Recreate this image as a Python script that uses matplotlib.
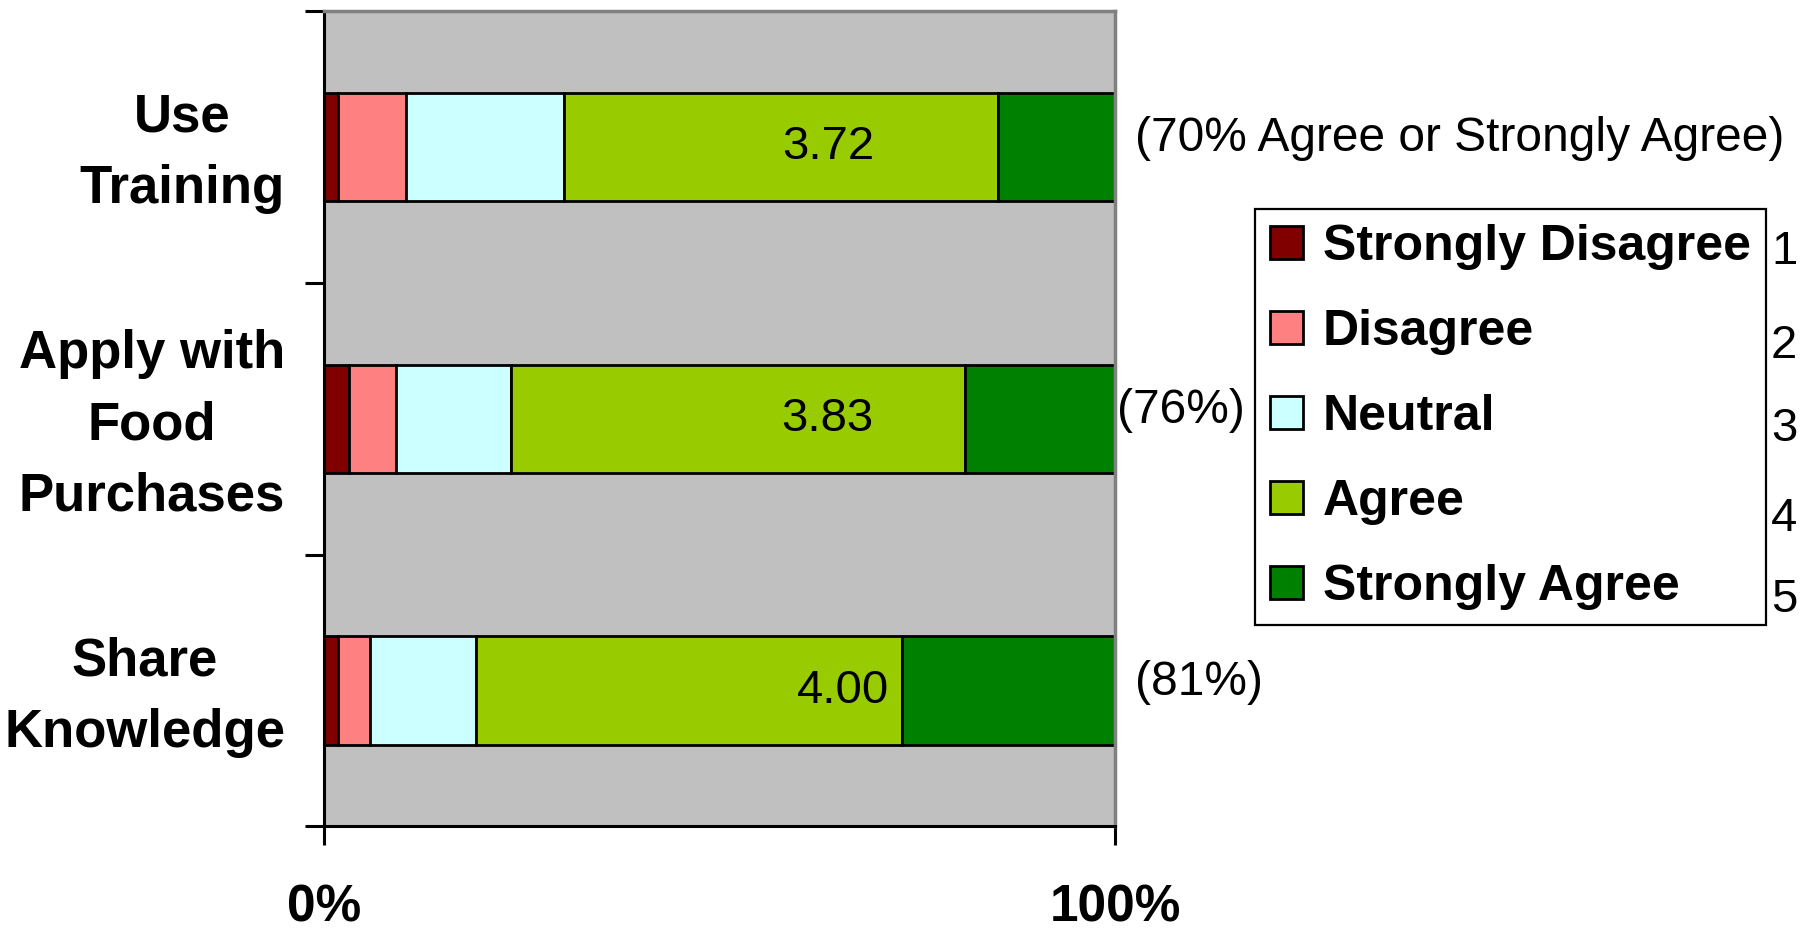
import numpy as np
from matplotlib import pyplot as plt
from matplotlib.transforms import ScaledTranslation

plt.rcParams['font.family'] = ['Liberation Sans', 'DejaVu Sans']

# survey items, top to bottom
items = ['Use\nTraining', 'Apply with\nFood\nPurchases', 'Share\nKnowledge']
levels = ['Strongly Disagree', 'Disagree', 'Neutral', 'Agree', 'Strongly Agree']
scores = [1, 2, 3, 4, 5]
colors = ['#800000', '#FF8080', '#CCFFFF', '#99CC00', '#008000']

# percent of answers per level, one list per item
use_training = [1.8, 8.6, 20.0, 54.8, 14.8]
apply_food = [3.2, 5.9, 14.6, 57.4, 18.9]
share_knowledge = [1.8, 4.0, 13.4, 53.9, 26.9]

agree_notes = ['({:.0f}% Agree or Strongly Agree)', '({:.0f}%)', '({:.0f}%)']
x_ticks = [0, 100]
x_tick_labels = ['0%', '100%']


def draw():
    data = np.array([use_training, apply_food, share_knowledge])
    y = np.arange(len(items))[::-1]

    fig = plt.figure(figsize=(18.1, 9.36), dpi=100)
    ax = fig.add_axes([0.179, 0.117, 0.437, 0.871])
    ax.set_facecolor('#C0C0C0')

    left = np.zeros(len(items))
    for i, name in enumerate(levels):
        ax.barh(y, data[:, i], left=left, height=0.4, color=colors[i],
                edgecolor='black', linewidth=2.0, label=name)
        left += data[:, i]

    # mean score inside the agree block, share of agree on the right
    means = data @ np.array(scores) / data.sum(axis=1)
    agree = data[:, 3] + data[:, 4]
    mean_x = [63.7, 63.7, 65.6]
    note_x = [1.025, 1.002, 1.025]
    for k in range(len(items)):
        ax.text(mean_x[k], y[k], '%.2f' % means[k], ha='center', va='center',
                fontsize=34)
        ax.text(note_x[k], y[k] + 0.03, agree_notes[k].format(agree[k]),
                transform=ax.get_yaxis_transform(), ha='left', va='center',
                fontsize=34.5)

    ax.set_xlim(0, 100)
    ax.set_ylim(-0.5, len(items) - 0.5)
    ax.set_xticks(x_ticks, x_tick_labels, fontsize=37, fontweight='bold')
    ax.set_yticks(np.arange(-0.5, len(items), 1.0), [])
    ax.set_yticks(y, items, minor=True, fontsize=38, fontweight='bold',
                  multialignment='center', linespacing=1.55)
    ax.tick_params(axis='both', which='major', direction='out', length=13.7,
                   width=2.2, color='black')
    ax.tick_params(axis='x', pad=27)
    ax.tick_params(axis='y', which='minor', length=0, pad=28)
    # nudge item names up a little
    lift = ScaledTranslation(0, 0.1, fig.dpi_scale_trans)
    for lab in ax.get_yticklabels(minor=True):
        lab.set_transform(lab.get_transform() + lift)

    for side in ['left', 'bottom']:
        ax.spines[side].set_color('black')
        ax.spines[side].set_linewidth(2.2)
    for side in ['top', 'right']:
        ax.spines[side].set_color('#808080')
        ax.spines[side].set_linewidth(2.5)

    leg = fig.legend(loc='upper left', bbox_to_anchor=(0.6934, 0.7767),
                     prop={'weight': 'bold', 'size': 36}, frameon=True,
                     fancybox=False, framealpha=1, edgecolor='black',
                     borderpad=0.3, labelspacing=0.78, handlelength=0.65,
                     handleheight=0.65, handletextpad=0.4, borderaxespad=0)
    leg.get_frame().set_linewidth(1.6)

    # level scores beside the legend
    score_y = [252, 346, 429, 519, 600]
    for s, py in zip(scores, score_y):
        fig.text(1784 / 1810, 1 - py / 936, str(s), ha='center', va='center',
                 fontsize=34)

    fig.savefig('out.png', dpi=100, facecolor='white')


if __name__ == '__main__':
    draw()
